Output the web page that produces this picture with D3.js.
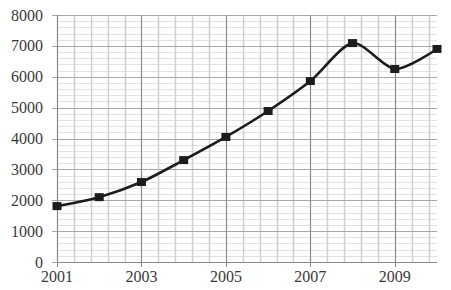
<!DOCTYPE html>
<html>
<head>
<meta charset="utf-8">
<script src="https://cdn.jsdelivr.net/npm/d3@7"></script>
<style>
  body { margin: 0; background: #fff; }
</style>
</head>
<body>
<div id="chart"></div>
<script>
const years = [2001, 2002, 2003, 2004, 2005, 2006, 2007, 2008, 2009, 2010];
const values = [1810, 2100, 2590, 3300, 4050, 4890, 5860, 7090, 6250, 6900];
const yTicks = [0, 1000, 2000, 3000, 4000, 5000, 6000, 7000, 8000];
const xTicks = [2001, 2003, 2005, 2007, 2009];

const width = 451, height = 290;
const margin = { left: 57, right: 14, top: 15, bottom: 28 };
const font = "'Liberation Serif', 'Times New Roman', serif";

const svg = d3.select('#chart').append('svg')
  .attr('width', width)
  .attr('height', height);

const x = d3.scaleLinear().domain([2001, 2010]).range([margin.left, width - margin.right]);
const y = d3.scaleLinear().domain([0, 8000]).range([height - margin.bottom, margin.top]);

// minor grid
const minorX = d3.range(2001, 2010.001, 0.4);
const minorY = d3.range(0, 8001, 200);

svg.append('g').selectAll('line')
  .data(minorY)
  .join('line')
  .attr('x1', x(2001)).attr('x2', x(2010))
  .attr('y1', d => Math.round(y(d)) + 0.5).attr('y2', d => Math.round(y(d)) + 0.5)
  .attr('stroke', '#e2e2e2');

svg.append('g').selectAll('line')
  .data(minorX)
  .join('line')
  .attr('y1', y(0)).attr('y2', y(8000))
  .attr('x1', d => Math.round(x(d)) + 0.5).attr('x2', d => Math.round(x(d)) + 0.5)
  .attr('stroke', '#cfcfcf')
  .attr('stroke-width', 1.5);

// major grid
svg.append('g').selectAll('line')
  .data(yTicks)
  .join('line')
  .attr('x1', x(2001) - 5).attr('x2', x(2010))
  .attr('y1', d => Math.round(y(d)) + 0.5).attr('y2', d => Math.round(y(d)) + 0.5)
  .attr('stroke', '#a8a8a8');

svg.append('g').selectAll('line')
  .data(xTicks)
  .join('line')
  .attr('y1', y(0) + 5).attr('y2', y(8000))
  .attr('x1', d => Math.round(x(d)) + 0.5).attr('x2', d => Math.round(x(d)) + 0.5)
  .attr('stroke', '#8a8a8a');

// axes lines
svg.append('line')
  .attr('x1', Math.round(x(2001)) + 0.5).attr('x2', Math.round(x(2001)) + 0.5)
  .attr('y1', y(0)).attr('y2', y(8000))
  .attr('stroke', '#888');
svg.append('line')
  .attr('x1', x(2001)).attr('x2', x(2010))
  .attr('y1', Math.round(y(0)) + 0.5).attr('y2', Math.round(y(0)) + 0.5)
  .attr('stroke', '#888');

// labels
svg.append('g').selectAll('text')
  .data(yTicks)
  .join('text')
  .attr('x', 43)
  .attr('y', d => y(d))
  .attr('dy', '0.35em')
  .attr('text-anchor', 'end')
  .attr('font-family', font)
  .attr('font-size', 16)
  .attr('fill', '#3a3a3a')
  .text(d => d);

svg.append('g').selectAll('text')
  .data(xTicks)
  .join('text')
  .attr('x', d => x(d))
  .attr('y', 282)
  .attr('text-anchor', 'middle')
  .attr('font-family', font)
  .attr('font-size', 16)
  .attr('fill', '#3a3a3a')
  .text(d => d);

// series
const pts = years.map((yr, i) => [x(yr), y(values[i])]);
const line = d3.line().curve(d3.curveCardinal.tension(0.2));

svg.append('path')
  .attr('d', line(pts))
  .attr('fill', 'none')
  .attr('stroke', '#1c1c1c')
  .attr('stroke-width', 2.6);

svg.append('g').selectAll('rect')
  .data(pts)
  .join('rect')
  .attr('x', d => d[0] - 4.5)
  .attr('y', d => d[1] - 4)
  .attr('width', 9)
  .attr('height', 8)
  .attr('fill', '#1c1c1c');
</script>
</body>
</html>
